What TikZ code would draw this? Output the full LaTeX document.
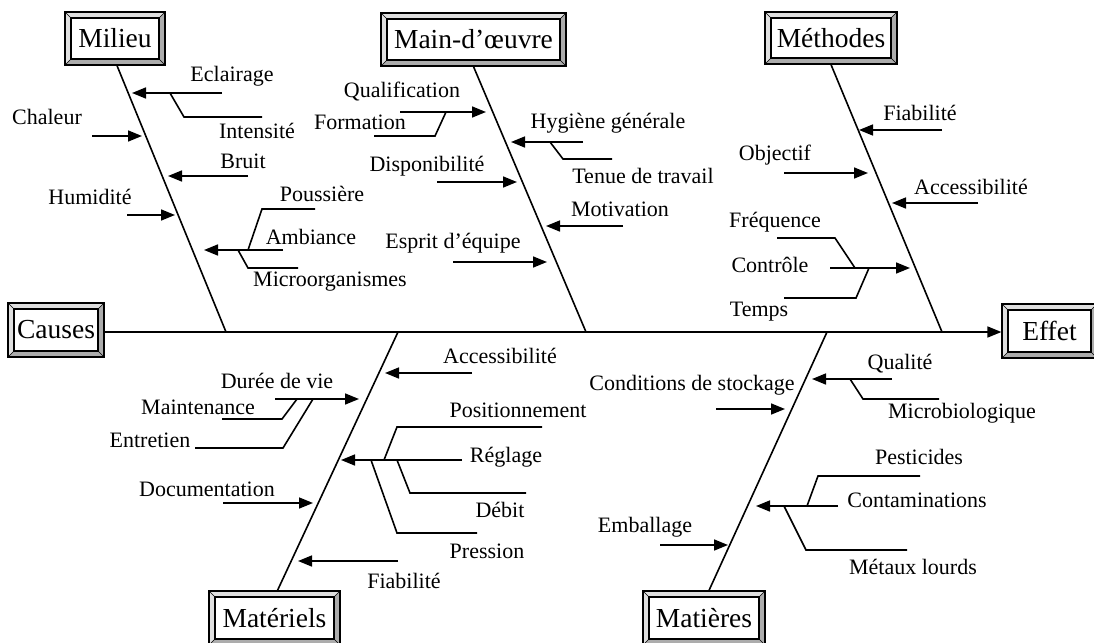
\documentclass[tikz,border=0pt]{standalone}
\usepackage{fontspec}
\setmainfont{Liberation Serif}
\usetikzlibrary{arrows.meta}
\newcommand{\lblfont}{\fontsize{22}{24}\selectfont}
\newcommand{\boxfont}{\fontsize{27.5}{30}\selectfont}
\newcommand{\cause}[3]{%
  \coordinate (#1-a) at (#2);
  \coordinate (#1-b) at (#3);
  \draw[arr] (#1-a) -- (#1-b);}

\tikzset{
  bevel/.style={draw,line width=1.2pt,fill=gray!25,font=\boxfont,inner sep=0pt,
    path picture={
      \coordinate (bsw) at (path picture bounding box.south west);
      \coordinate (bne) at (path picture bounding box.north east);
      \fill[gray!65] (bsw) -- ([shift={(6pt,6pt)}]bsw)
        -- ([shift={(-6pt,6pt)}]bsw -| bne) -- ([shift={(-6pt,-6pt)}]bne)
        -- (bne) -- (bsw -| bne) -- cycle;
      \draw[line width=0.6pt] (bsw) -- ++(6pt,6pt) (bne) -- ++(-6pt,-6pt)
        (bsw |- bne) -- ++(6pt,-6pt) (bsw -| bne) -- ++(-6pt,6pt);
      \draw[fill=white,line width=1.4pt] ([shift={(6pt,6pt)}]bsw)
        rectangle ([shift={(-6pt,-6pt)}]bne);
    }},
  lbl/.style={font=\lblfont,inner sep=0pt},
  twig/.style={line width=1.6pt},
  bone/.style={line width=1.6pt},
  arr/.style={twig,-{Triangle[length=14pt,width=11pt]}}
}

\begin{document}
\begin{tikzpicture}[x=1pt,y=-1pt]
  \useasboundingbox (0,0) rectangle (1094,642);

  % categories
  \node[bevel,minimum width=96pt,minimum height=54pt] (causes) at (56,330) {Causes};
  \node[bevel,minimum width=95pt,minimum height=54pt] (effet) at (1049.5,331) {Effet\hspace{14pt}};
  \node[bevel,minimum width=100pt,minimum height=53pt] (milieu) at (115,38.5) {Milieu};
  \node[bevel,minimum width=185pt,minimum height=53pt] (mainoeuvre) at (473.5,39.5) {Main-d’œuvre};
  \node[bevel,minimum width=132pt,minimum height=52pt] (methodes) at (831,38) {Méthodes};
  \node[bevel,minimum width=131pt,minimum height=54pt] (materiels) at (274.5,618) {Matériels};
  \node[bevel,minimum width=122pt,minimum height=54pt] (matieres) at (704,618) {Matières};

  \coordinate (s-mil) at (226,332);
  \coordinate (s-mo) at (586,332);
  \coordinate (s-met) at (942,332);
  \coordinate (s-mat) at (398,332);
  \coordinate (s-mti) at (827,332);
  \draw[arr] (causes.east |- s-mil) -- (effet.west |- s-mil);
  \draw[bone] ([xshift=2pt]milieu.south) -- (s-mil);
  \draw[bone] (mainoeuvre.south) -- (s-mo);
  \draw[bone] (methodes.south) -- (s-met);
  \draw[bone] ([xshift=3pt]materiels.north) -- (s-mat);
  \draw[bone] ([xshift=5pt]matieres.north) -- (s-mti);

  % Milieu
  \cause{ecl}{222,93}{132,93}
  \cause{cha}{92,136}{142,136}
  \cause{bru}{248,176}{168,176}
  \cause{hum}{127,215}{175,215}
  \cause{amb}{283,250}{204,250}
  \draw[twig] (170,93) -- (184,117) -- (262,117);
  \draw[twig] (248,250) -- (262,209) -- (315,209);
  \draw[twig] (238,250) -- (248,268) -- (298,268);
  \node[lbl] (eclairage) at (232,76) {Eclairage};
  \node[lbl] (intensite) at (257,131) {Intensité};
  \node[lbl] (chaleur) at (47,117) {Chaleur};
  \node[lbl] (bruit) at (243,161) {Bruit};
  \node[lbl] (humidite) at (90,197) {Humidité};
  \node[lbl] (poussiere) at (322,194) {Poussière};
  \node[lbl] (ambiance) at (311,237) {Ambiance};
  \node[lbl] (microorg) at (330,282) {Microorganismes};

  % Main-d'oeuvre
  \cause{qua}{400,112}{486,112}
  \cause{hyg}{583,142}{511,142}
  \cause{dis}{437,182}{517,182}
  \cause{mot}{623,226}{546,226}
  \cause{esp}{453,262}{547,262}
  \draw[twig] (374,136) -- (435,136) -- (446,112);
  \draw[twig] (550,142) -- (563,159) -- (612,159);
  \node[lbl] (qualification) at (402,92) {Qualification};
  \node[lbl] (formation) at (360,122) {Formation};
  \node[lbl] (hygiene) at (608,123) {Hygiène générale};
  \node[lbl] (tenue) at (643,176) {Tenue de travail};
  \node[lbl] (dispo) at (427,166) {Disponibilité};
  \node[lbl] (motivation) at (620,209) {Motivation};
  \node[lbl] (esprit) at (453,243) {Esprit d’équipe};

  % Methodes
  \cause{fia}{942,130}{859,130}
  \cause{obj}{784,173}{868,173}
  \cause{acc}{978,203}{892,203}
  \cause{con}{830,268}{910,268}
  \draw[twig] (777,238) -- (835,238) -- (855,268);
  \draw[twig] (784,298) -- (856,298) -- (869,268);
  \node[lbl] (fiabilite) at (920,113) {Fiabilité};
  \node[lbl] (objectif) at (775,155) {Objectif};
  \node[lbl] (accessib) at (971,187) {Accessibilité};
  \node[lbl] (frequence) at (775,222) {Fréquence};
  \node[lbl] (controle) at (770,265) {Contrôle};
  \node[lbl] (temps) at (759,312) {Temps};

  % Materiels
  \cause{acm}{472,373}{385,373}
  \cause{dur}{275,399}{359,399}
  \cause{reg}{462,460}{341,460}
  \cause{doc}{223,503}{313,503}
  \cause{fim}{398,561}{298,561}
  \draw[twig] (222,419) -- (282,419) -- (297,399);
  \draw[twig] (195,448) -- (283,448) -- (313,399);
  \draw[twig] (542,427) -- (397,427) -- (384,460);
  \draw[twig] (397,460) -- (410,493) -- (526,493);
  \draw[twig] (371,460) -- (397,533) -- (477,533);
  \node[lbl] (accessib2) at (500,356) {Accessibilité};
  \node[lbl] (duree) at (277,381) {Durée de vie};
  \node[lbl] (maintenance) at (198,407) {Maintenance};
  \node[lbl] (entretien) at (150,440) {Entretien};
  \node[lbl] (position) at (518,410) {Positionnement};
  \node[lbl] (reglage) at (506,457) {Réglage};
  \node[lbl] (debit) at (500,510) {Débit};
  \node[lbl] (pression) at (487,551) {Pression};
  \node[lbl] (documentation) at (207,489) {Documentation};
  \node[lbl] (fiabilite2) at (404,581) {Fiabilité};

  % Matieres
  \cause{qal}{892,379}{812,379}
  \cause{cds}{716,409}{785,409}
  \cause{ctm}{838,506}{756,506}
  \cause{emb}{660,545}{728,545}
  \draw[twig] (850,379) -- (863,399) -- (939,399);
  \draw[twig] (920,476) -- (818,476) -- (807,506);
  \draw[twig] (784,506) -- (806,550) -- (907,550);
  \node[lbl] (qualite) at (900,364) {Qualité};
  \node[lbl] (microbio) at (962,413) {Microbiologique};
  \node[lbl] (stockage) at (692,385) {Conditions de stockage};
  \node[lbl] (pesticides) at (919,457) {Pesticides};
  \node[lbl] (contam) at (917,500) {Contaminations};
  \node[lbl] (metaux) at (913,567) {Métaux lourds};
  \node[lbl] (emballage) at (645,527) {Emballage};
\end{tikzpicture}
\end{document}
